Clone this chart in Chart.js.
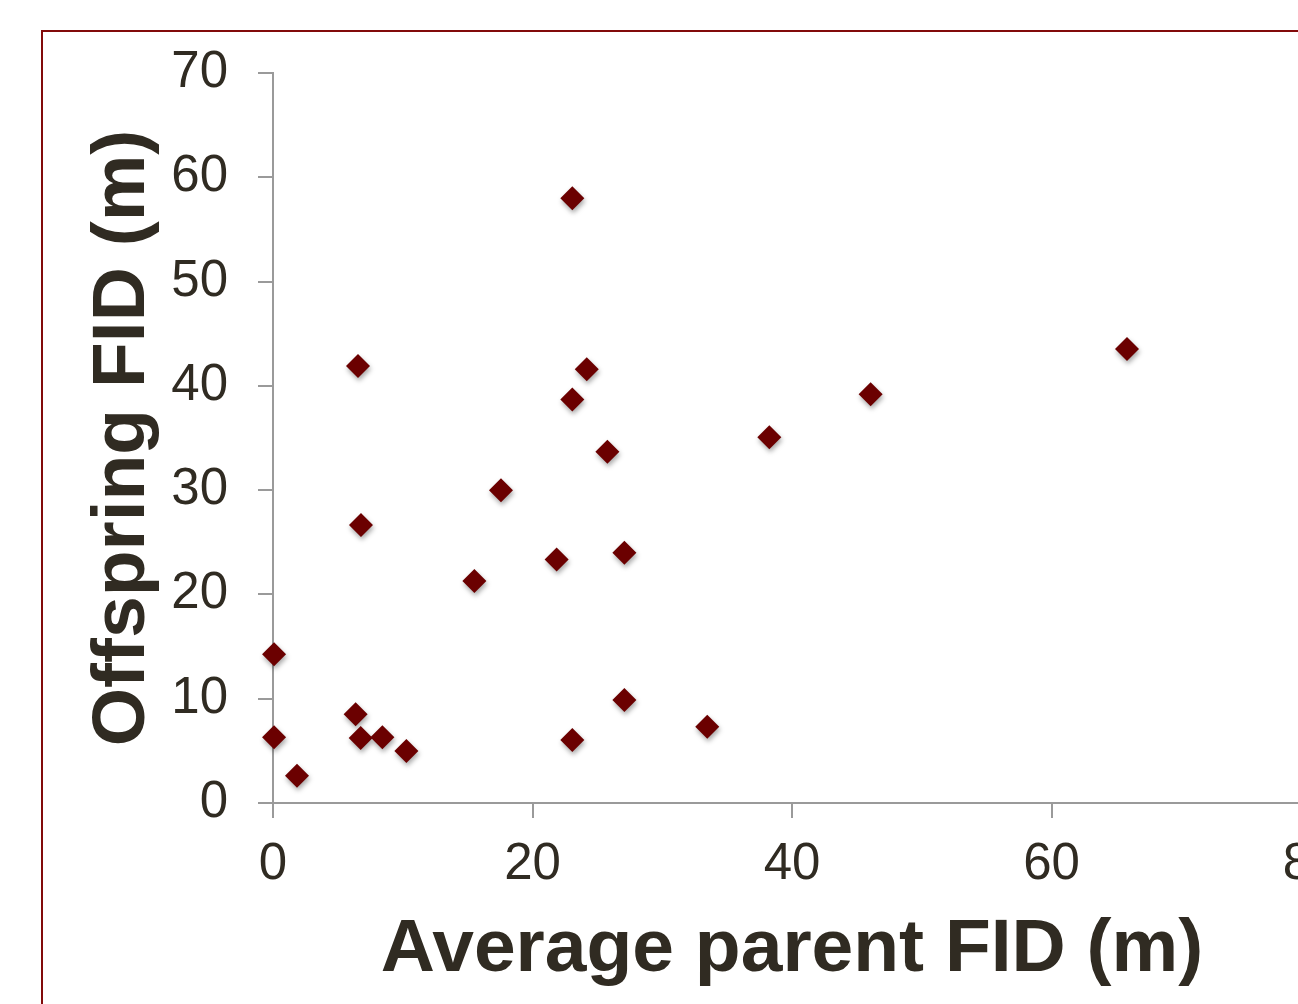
<!DOCTYPE html>
<html>
<head>
<meta charset="utf-8">
<script src="https://cdn.jsdelivr.net/npm/chart.js@4/dist/chart.umd.min.js"></script>
<style>
  html, body { margin: 0; padding: 0; background: #fff; overflow: hidden; }
  #wrap { position: absolute; left: 0; top: 0; width: 1400px; height: 1004px; }
</style>
</head>
<body>
<div id="wrap"><canvas id="c" width="1400" height="1004"></canvas></div>
<script>
// Data
const parentFID =    [0.08, 0.08, 1.85, 6.37, 6.76, 8.43, 10.28, 6.55, 6.78, 15.52, 17.57, 21.86, 23.07, 23.07, 24.18, 25.77, 27.08, 27.08, 23.07, 33.47, 38.25, 46.06, 65.82];
const offspringFID = [14.26, 6.3, 2.62, 8.5, 6.23, 6.3, 4.99, 41.9, 26.65, 21.28, 30.0, 23.36, 57.98, 38.7, 41.6, 33.68, 24.0, 9.88, 6.04, 7.32, 35.06, 39.2, 43.53];
const xTicks = [0, 20, 40, 60, 80];
const yTicks = [0, 10, 20, 30, 40, 50, 60, 70];
const xTitle = 'Average parent FID (m)';
const yTitle = 'Offspring FID (m)';

const points = parentFID.map((x, i) => ({ x: x, y: offspringFID[i] }));

const textColor = '#302b22';
const axisColor = '#9a9a9a';

const framePlugin = {
  id: 'frame',
  beforeDraw(chart) {
    const ctx = chart.ctx;
    ctx.save();
    ctx.fillStyle = '#ffffff';
    ctx.fillRect(0, 0, chart.width, chart.height);
    ctx.strokeStyle = '#820a0a';
    ctx.lineWidth = 2;
    ctx.strokeRect(42, 31, 2000, 2000);
    ctx.restore();
  }
};

const shadowPlugin = {
  id: 'shadow',
  beforeDatasetsDraw(chart) {
    const ctx = chart.ctx;
    ctx.save();
    ctx.shadowColor = 'rgba(0,0,0,0.35)';
    ctx.shadowBlur = 5;
    ctx.shadowOffsetX = 1;
    ctx.shadowOffsetY = 3;
  },
  afterDatasetsDraw(chart) {
    chart.ctx.restore();
  }
};

new Chart(document.getElementById('c'), {
  type: 'scatter',
  data: {
    datasets: [{
      data: points,
      clip: false,
      pointStyle: 'rectRot',
      pointRadius: 12,
      pointHoverRadius: 12,
      backgroundColor: '#6b0000',
      borderColor: '#6b0000',
      borderWidth: 0
    }]
  },
  options: {
    responsive: false,
    animation: false,
    devicePixelRatio: 1,
    layout: { padding: { left: 0, top: 73, right: 89, bottom: 0 } },
    plugins: { legend: { display: false }, tooltip: { enabled: false } },
    scales: {
      x: {
        type: 'linear',
        min: 0, max: 80,
        afterBuildTicks(scale) { scale.ticks = xTicks.map(v => ({ value: v })); },
        afterFit(scale) { scale.height = 201; },
        ticks: {
          color: textColor,
          font: { family: '"Liberation Sans", Arial, sans-serif', size: 51 },
          padding: 16,
          maxRotation: 0,
          autoSkip: false
        },
        grid: { drawOnChartArea: false, drawTicks: true, tickLength: 15, tickColor: axisColor, lineWidth: 2 },
        border: { display: true, color: axisColor, width: 2 },
        title: {
          display: true,
          text: xTitle,
          color: textColor,
          font: { family: '"Liberation Sans", Arial, sans-serif', size: 75, weight: 'bold' },
          padding: { top: 0, bottom: 9 }
        }
      },
      y: {
        type: 'linear',
        min: 0, max: 70,
        afterBuildTicks(scale) { scale.ticks = yTicks.map(v => ({ value: v })); },
        afterFit(scale) { scale.width = 273; },
        ticks: {
          color: textColor,
          font: { family: '"Liberation Sans", Arial, sans-serif', size: 51 },
          padding: 30,
          autoSkip: false
        },
        grid: { drawOnChartArea: false, drawTicks: true, tickLength: 15, tickColor: axisColor, lineWidth: 2 },
        border: { display: true, color: axisColor, width: 2 },
        title: {
          display: true,
          text: yTitle,
          color: textColor,
          font: { family: '"Liberation Sans", Arial, sans-serif', size: 75, weight: 'bold' },
          padding: { top: 78, bottom: 0 }
        }
      }
    }
  },
  plugins: [framePlugin, shadowPlugin]
});
</script>
</body>
</html>
